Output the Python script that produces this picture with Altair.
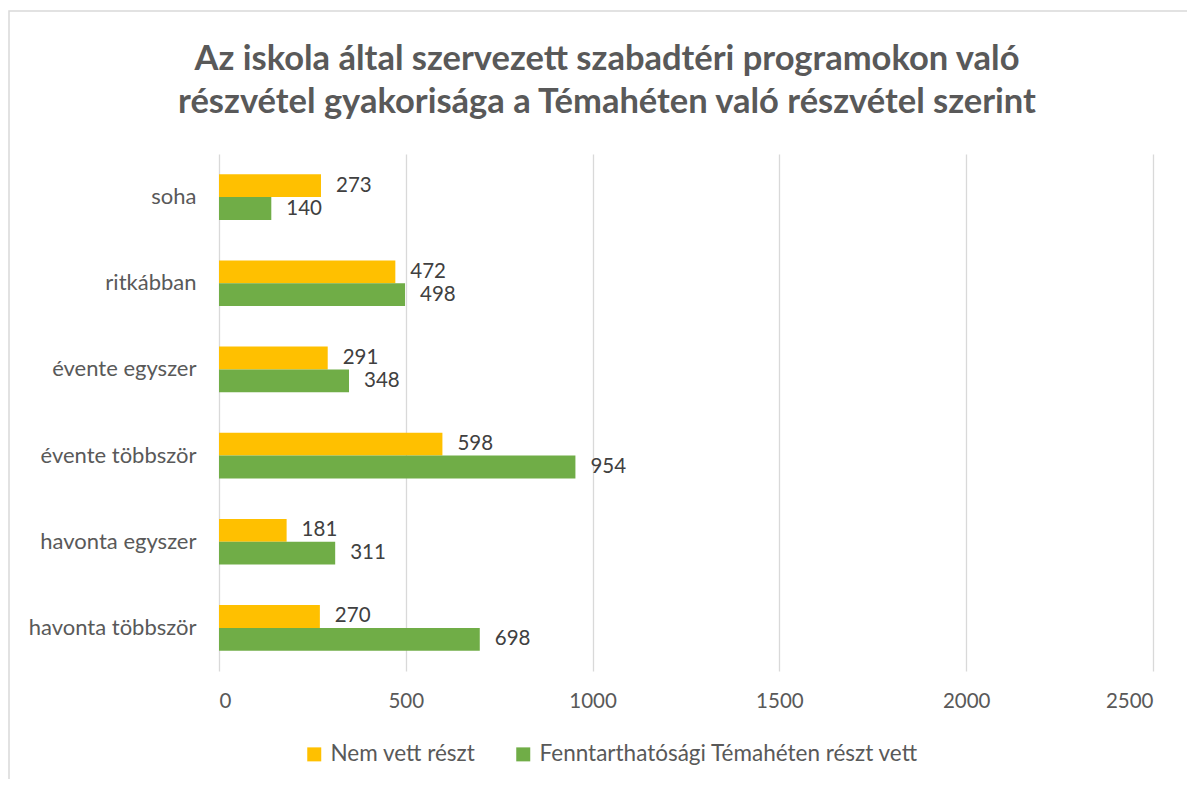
import altair as alt
import pandas as pd

categories = ["soha", "ritkábban", "évente egyszer", "évente többször", "havonta egyszer", "havonta többször"]
series = ["Nem vett részt", "Fenntarthatósági Témahéten részt vett"]
nem_vett = [273, 472, 291, 598, 181, 270]
reszt_vett = [140, 498, 348, 954, 311, 698]
x_ticks = [0, 500, 1000, 1500, 2000, 2500]
colors = ["#FFC000", "#70AD47"]
title_lines = [
    "Az iskola által szervezett szabadtéri programokon való",
    "részvétel gyakorisága a Témahéten való részvétel szerint",
]

rows = []
for c, a, b in zip(categories, nem_vett, reszt_vett):
    rows.append({"kat": c, "sor": series[0], "ertek": a})
    rows.append({"kat": c, "sor": series[1], "ertek": b})
df = pd.DataFrame(rows)

FONT = "Lato"
GRAY = "#595959"

y_enc = alt.Y("kat:N", sort=categories, title=None,
              scale=alt.Scale(paddingInner=0.47, paddingOuter=0.235),
              axis=alt.Axis(domain=False, ticks=False, labelPadding=23,
                            labelFontSize=22, labelColor=GRAY, labelFont=FONT))
yoff = alt.YOffset("sor:N", sort=series, scale=alt.Scale(paddingInner=0, paddingOuter=0))
x_enc = alt.X("ertek:Q", title=None,
              scale=alt.Scale(domain=[0, 2500], nice=False),
              axis=alt.Axis(values=x_ticks, format="d", domain=False, ticks=False, labelPadding=20,
                            labelFontSize=20.5, labelColor=GRAY, labelFont=FONT,
                            grid=True, gridColor="#d9d9d9", gridWidth=1.3))

base = alt.Chart(df)

bars = base.mark_bar().encode(
    x=x_enc,
    y=y_enc,
    yOffset=yoff,
    color=alt.Color("sor:N", sort=series, title=None,
                    scale=alt.Scale(domain=series, range=colors),
                    legend=alt.Legend(orient="none", legendX=84, legendY=589,
                                      direction="horizontal", symbolType="square",
                                      symbolSize=196, symbolStrokeWidth=0,
                                      labelFontSize=22.5, labelColor=GRAY, labelFont=FONT,
                                      labelLimit=700, columnPadding=36, labelOffset=5,
                                      padding=0)),
)

labels = base.mark_text(align="left", baseline="middle", dx=15,
                        fontSize=20.5, color="#404040", font=FONT).encode(
    x=alt.X("ertek:Q"),
    y=alt.Y("kat:N", sort=categories),
    yOffset=alt.YOffset("sor:N", sort=series),
    text=alt.Text("ertek:Q"),
)

frame = alt.Chart(pd.DataFrame({"a": [0]})).mark_rect(
    fill="transparent", stroke="#d9d9d9", strokeWidth=1.5).encode(
    x=alt.value(-210), x2=alt.value(1000), y=alt.value(-143), y2=alt.value(700))

chart = alt.layer(frame, bars, labels).properties(
    width=934, height=517,
    padding={"left": 211, "top": 146, "right": 34, "bottom": 108},
    autosize="none",
    title=alt.TitleParams(text=title_lines, anchor="middle", frame="group",
                          dx=-79, dy=110, offset=0, fontSize=34.5, fontWeight="bold",
                          color=GRAY, font=FONT, lineHeight=43),
).configure_view(stroke=None)

chart.save("out.html", embed_options={"renderer": "svg", "actions": False})
